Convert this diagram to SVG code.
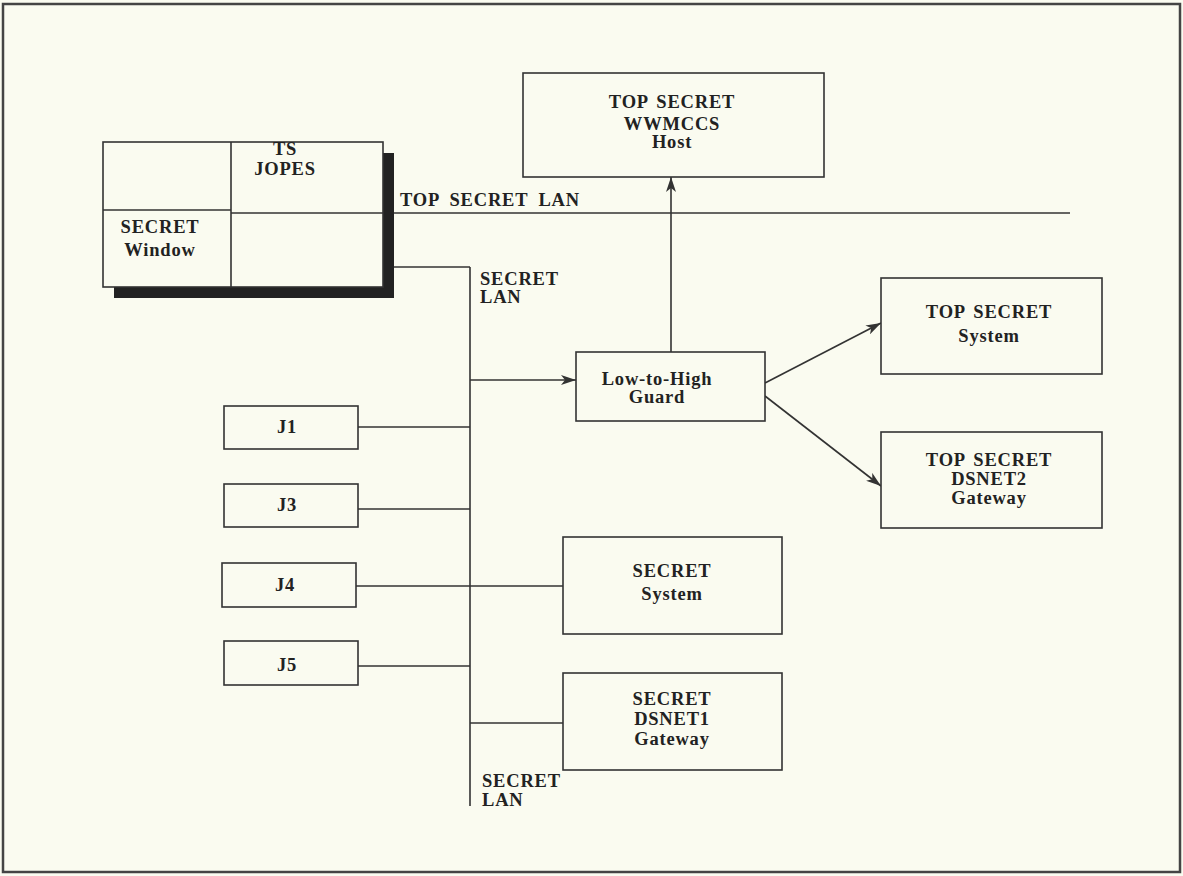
<svg xmlns="http://www.w3.org/2000/svg" width="1183" height="876" viewBox="0 0 1183 876">
<style>
.bg{fill:#fafbf0}
.box{fill:#fafbf0;stroke:#333;stroke-width:1.6}
.ln{stroke:#333;stroke-width:1.6;fill:none}
.t{font-family:"Liberation Serif",serif;font-weight:bold;font-size:18.5px;letter-spacing:0.8px;word-spacing:3px;fill:#222;text-anchor:middle}
.tl{font-family:"Liberation Serif",serif;font-weight:bold;font-size:18.5px;letter-spacing:0.8px;word-spacing:5px;fill:#222}
</style>
<defs>
<marker id="ah" markerWidth="16" markerHeight="10" refX="15" refY="5" orient="auto" markerUnits="userSpaceOnUse">
<path d="M0,0 L15,5 L0,10 L4,5 Z" fill="#333"/>
</marker>
</defs>
<rect class="bg" x="0" y="0" width="1183" height="876"/>
<rect x="3" y="4" width="1177" height="868" fill="none" stroke="#444" stroke-width="2.5"/>

<g id="connectors">
<line class="ln" x1="383" y1="213" x2="1070" y2="213"/>
<line class="ln" x1="383" y1="267" x2="470" y2="267"/>
<line class="ln" x1="470" y1="267" x2="470" y2="806"/>
<line class="ln" x1="470" y1="380" x2="576" y2="380" marker-end="url(#ah)"/>
<line class="ln" x1="671" y1="352" x2="671" y2="177" marker-end="url(#ah)"/>
<line class="ln" x1="765" y1="383" x2="881" y2="323" marker-end="url(#ah)"/>
<line class="ln" x1="765" y1="396" x2="881" y2="486" marker-end="url(#ah)"/>
<line class="ln" x1="358" y1="427" x2="470" y2="427"/>
<line class="ln" x1="358" y1="509" x2="470" y2="509"/>
<line class="ln" x1="356" y1="586" x2="563" y2="586"/>
<line class="ln" x1="358" y1="666" x2="470" y2="666"/>
<line class="ln" x1="470" y1="723" x2="563" y2="723"/>
<text class="tl" x="400" y="206">TOP SECRET LAN</text>
<text class="tl" x="480" y="285">SECRET</text>
<text class="tl" x="480" y="303">LAN</text>
<text class="tl" x="482" y="787">SECRET</text>
<text class="tl" x="482" y="806">LAN</text>
</g>

<g id="window">
<rect x="114" y="153" width="280" height="145" fill="#222"/>
<rect class="box" x="103" y="142" width="280" height="145"/>
<line class="ln" x1="231" y1="142" x2="231" y2="287"/>
<line class="ln" x1="103" y1="210" x2="231" y2="210"/>
<line class="ln" x1="231" y1="213" x2="383" y2="213"/>
<text class="t" x="285" y="155">TS</text>
<text class="t" x="285" y="175">JOPES</text>
<text class="t" x="160" y="233">SECRET</text>
<text class="t" x="160" y="256">Window</text>
</g>

<g id="wwmccs">
<rect class="box" x="523" y="73" width="301" height="104"/>
<text class="t" x="672" y="108">TOP SECRET</text>
<text class="t" x="672" y="130">WWMCCS</text>
<text class="t" x="672" y="148">Host</text>
</g>

<g id="guard">
<rect class="box" x="576" y="352" width="189" height="69"/>
<text class="t" x="657" y="385">Low-to-High</text>
<text class="t" x="657" y="403">Guard</text>
</g>

<g id="ts-system">
<rect class="box" x="881" y="278" width="221" height="96"/>
<text class="t" x="989" y="318">TOP SECRET</text>
<text class="t" x="989" y="342">System</text>
</g>

<g id="ts-dsnet2">
<rect class="box" x="881" y="432" width="221" height="96"/>
<text class="t" x="989" y="466">TOP SECRET</text>
<text class="t" x="989" y="485">DSNET2</text>
<text class="t" x="989" y="504">Gateway</text>
</g>

<g id="j1">
<rect class="box" x="224" y="406" width="134" height="43"/>
<text class="t" x="287" y="433">J1</text>
</g>
<g id="j3">
<rect class="box" x="224" y="484" width="134" height="43"/>
<text class="t" x="287" y="511">J3</text>
</g>
<g id="j4">
<rect class="box" x="222" y="563" width="134" height="44"/>
<text class="t" x="285" y="591">J4</text>
</g>
<g id="j5">
<rect class="box" x="224" y="641" width="134" height="44"/>
<text class="t" x="287" y="671">J5</text>
</g>

<g id="s-system">
<rect class="box" x="563" y="537" width="219" height="97"/>
<text class="t" x="672" y="577">SECRET</text>
<text class="t" x="672" y="600">System</text>
</g>

<g id="s-dsnet1">
<rect class="box" x="563" y="673" width="219" height="97"/>
<text class="t" x="672" y="705">SECRET</text>
<text class="t" x="672" y="725">DSNET1</text>
<text class="t" x="672" y="745">Gateway</text>
</g>
</svg>
